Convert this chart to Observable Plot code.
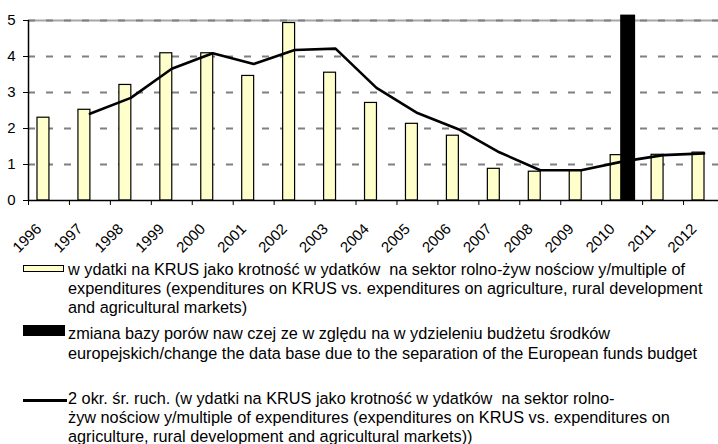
<!DOCTYPE html>
<html>
<head>
<meta charset="utf-8">
<script src="https://cdn.jsdelivr.net/npm/d3@7"></script>
<script src="https://cdn.jsdelivr.net/npm/@observablehq/plot@0.6"></script>
<style>
  html, body { margin: 0; padding: 0; background: #fff; overflow: hidden; }
  #wrap { position: relative; width: 718px; height: 444px; overflow: hidden; font-family: "Liberation Sans", Arial, sans-serif; color: #000; }
  #chart { position: absolute; left: 0; top: 0; width: 724px; }
  #chart svg { max-width: none !important; }
  .txt { position: absolute; left: 68px; font-size: 16.3px; line-height: 19px; white-space: pre; }
  .sw { position: absolute; left: 23px; box-sizing: border-box; }
</style>
</head>
<body>
<div id="wrap">
  <div id="chart"></div>
  <div class="sw" style="top:265px;width:41px;height:7px;background:#FFFFCC;border:1.5px solid #000;"></div>
  <div class="txt" id="l1a" style="top:260px;"></div>
  <div class="txt" id="l1b" style="top:279px;"></div>
  <div class="txt" id="l1c" style="top:298px;"></div>
  <div class="sw" style="top:325px;width:42px;height:11px;background:#000;"></div>
  <div class="txt" id="l2a" style="top:324px;"></div>
  <div class="txt" id="l2b" style="top:344px;"></div>
  <div class="sw" style="top:399px;width:44px;height:3px;background:#000;"></div>
  <div class="txt" id="l3a" style="top:389px;"></div>
  <div class="txt" id="l3b" style="top:408px;"></div>
  <div class="txt" id="l3c" style="top:427px;"></div>
</div>
<script>
// ---- data ----
const years = ["1996","1997","1998","1999","2000","2001","2002","2003","2004","2005","2006","2007","2008","2009","2010","2011","2012"];
const krusMultiple = [2.30, 2.52, 3.21, 4.09, 4.09, 3.46, 4.93, 3.55, 2.71, 2.13, 1.80, 0.88, 0.80, 0.83, 1.26, 1.27, 1.33];
const maYears = ["1997","1998","1999","2000","2001","2002","2003","2004","2005","2006","2007","2008","2009","2010","2011","2012"];
const maValues = [2.41, 2.85, 3.66, 4.09, 3.79, 4.18, 4.22, 3.13, 2.43, 1.98, 1.34, 0.84, 0.84, 1.08, 1.26, 1.31];
const breakYears = ["2010"];
const breakValues = [5.15];
const yTicks = [0, 1, 2, 3, 4, 5];
const gridTicks = [1, 2, 3, 4];
const topTick = [5];

const legend1 = [
  "w ydatki na KRUS jako krotność w ydatków  na sektor rolno-żyw nościow y/multiple of",
  "expenditures (expenditures on KRUS vs. expenditures on agriculture, rural development",
  "and agricultural markets)"
];
const legend2 = [
  "zmiana bazy porów naw czej ze w zględu na w ydzieleniu budżetu środków",
  "europejskich/change the data base due to the separation of the European funds budget"
];
const legend3 = [
  "2 okr. śr. ruch. (w ydatki na KRUS jako krotność w ydatków  na sektor rolno-",
  "żyw nościow y/multiple of expenditures (expenditures on KRUS vs. expenditures on",
  "agriculture, rural development and agricultural markets))"
];

const bars = years.map((y, i) => ({year: y, value: krusMultiple[i]}));
const ma = maYears.map((y, i) => ({year: y, value: maValues[i]}));
const brk = breakYears.map((y, i) => ({year: y, value: breakValues[i]}));

const W = 724, ML = 28, MR = 0;
const bw = (W - ML - MR) / years.length;

const chart = Plot.plot({
  width: W,
  height: 252,
  marginLeft: ML,
  marginRight: MR,
  marginTop: 20,
  marginBottom: 52,
  style: {fontFamily: "Liberation Sans, Arial, sans-serif", fontSize: "15px", background: "transparent", overflow: "visible", maxWidth: "none"},
  x: {type: "band", domain: years, padding: 0, round: false, axis: null},
  y: {domain: [0, 5], axis: null},
  marks: [
    Plot.ruleY(topTick, {stroke: "#a6a6a6", strokeWidth: 2}),
    Plot.ruleY(topTick, {stroke: "#808080", strokeWidth: 2, strokeDasharray: "7,11"}),
    Plot.ruleY(gridTicks, {stroke: "#808080", strokeWidth: 2, strokeDasharray: "7,11"}),
    Plot.barY(bars, {x: "year", y: "value", fill: "#FFFFCC", stroke: "#000", strokeWidth: 1.2, insetLeft: 9, insetRight: 20}),
    Plot.barY(brk, {x: "year", y: "value", fill: "#000", insetLeft: 19, insetRight: 7}),
    Plot.line(ma, {x: "year", y: "value", stroke: "#000", strokeWidth: 2.6}),
    Plot.ruleY([0], {stroke: "#000", strokeWidth: 1.5}),
    Plot.ruleX(years.slice(0, 1), {x: d => d, y1: 0, y2: 5, dx: -bw / 2, stroke: "#000", strokeWidth: 1.5}),
    Plot.axisX({tickSize: 5, tickFormat: () => "", dx: -bw / 2, label: null, stroke: "#000"}),
    Plot.text(years, {x: d => d, text: d => d, frameAnchor: "bottom", rotate: -45, textAnchor: "end", lineAnchor: "middle", dx: -10, dy: 26, fontSize: 15, fill: "#000"}),
    Plot.axisY({ticks: yTicks, tickSize: 5, tickPadding: 8, tickFormat: d => String(d), label: null, fontSize: 15, fill: "#000", stroke: "#000"})
  ]
});
document.getElementById("chart").appendChild(chart);

const setLines = (ids, lines) => ids.forEach((id, i) => { document.getElementById(id).textContent = lines[i]; });
setLines(["l1a","l1b","l1c"], legend1);
setLines(["l2a","l2b"], legend2);
setLines(["l3a","l3b","l3c"], legend3);
</script>
</body>
</html>
